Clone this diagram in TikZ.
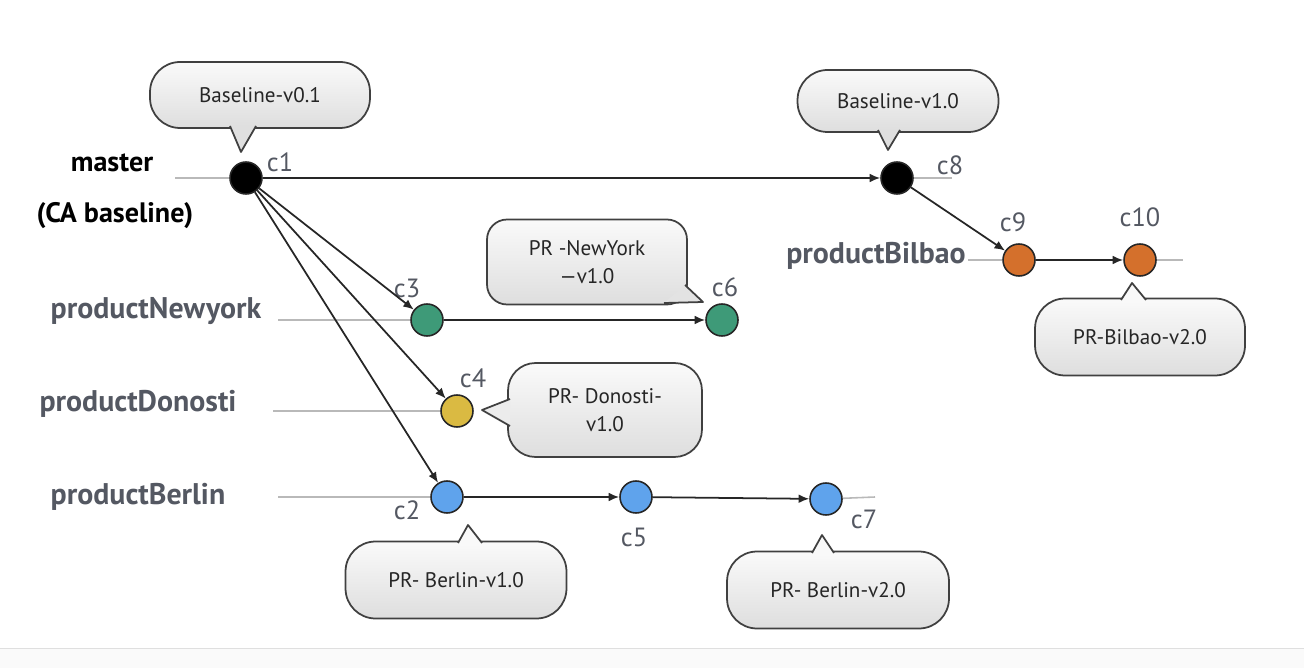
\documentclass[tikz,border=0pt]{standalone}
\usepackage{fontspec}
\setmainfont{PT Sans}
\usetikzlibrary{arrows.meta,positioning}
\definecolor{cgreen}{RGB}{62,154,120}
\definecolor{cyellow}{RGB}{218,186,66}
\definecolor{cblue}{RGB}{95,163,236}
\definecolor{corange}{RGB}{212,112,44}
\definecolor{labgray}{RGB}{84,88,98}
\tikzset{
  commit/.style={circle,draw=black!85,line width=0.9pt,minimum size=0.64cm,inner sep=0pt},
  lane/.style={gray!55,line width=0.9pt},
  link/.style={->,black!85,line width=1pt},
  clabel/.style={text=labgray,font=\fontsize{15}{15}\selectfont},
  branch/.style={text=labgray,font=\bfseries\fontsize{17}{17}\selectfont},
  bubble/.style={draw=black!75,line width=1pt,rounded corners=0.6cm,top color=gray!4,bottom color=gray!26,
    align=center,text=black!85,font=\fontsize{12}{16}\selectfont},
}

\begin{document}
\begin{tikzpicture}[>={Latex[length=6pt,width=5pt]},x=0.02cm,y=-0.02cm]
  \useasboundingbox (0,0) rectangle (1304,668);
  % bottom strip
  \fill[gray!4] (0,648) rectangle (1304,668);
  \draw[gray!25] (0,648) -- (1304,648);

  % branch names
  \node[font=\bfseries\fontsize{16}{16}\selectfont] (master) at (112,163) {master};
  \node[font=\bfseries\fontsize{16}{16}\selectfont] (cabase) at (115,216) {(CA baseline)};
  \node[branch] (ny) at (156,311) {productNewyork};
  \node[branch] (donosti) at (138,404) {productDonosti};
  \node[branch] (berlin) at (138,497) {productBerlin};
  \node[branch] (bilbao) at (876,256) {productBilbao};

  % commits
  \node[commit,fill=black] (c1) at (246,178) {};
  \node[commit,fill=black] (c8) at (897,178) {};
  \node[commit,fill=corange] (c9) at (1019,260) {};
  \node[commit,fill=corange] (c10) at (1140,260) {};
  \node[commit,fill=cgreen] (c3) at (427,320) {};
  \node[commit,fill=cgreen] (c6) at (722,320) {};
  \node[commit,fill=cyellow] (c4) at (457,411) {};
  \node[commit,fill=cblue] (c2) at (447,497) {};
  \node[commit,fill=cblue] (c5) at (636,497) {};
  \node[commit,fill=cblue] (c7) at (826,499) {};

  % commit labels
  \foreach \n/\x/\y in {c1/280/162,c8/950/165,c9/1013/222,c10/1140/217,c3/407/288,
                        c6/725/287,c4/473/378,c2/407/510,c5/634/537,c7/864/519}
    \node[clabel] (l\n) at (\x,\y) {\n};

  % lanes
  \coordinate (m0) at (175,178);  \coordinate (m1) at (952,178);
  \coordinate (b0) at (968,260);  \coordinate (b1) at (1183,260);
  \coordinate (n0) at (278,320);
  \coordinate (d0) at (273,411);
  \coordinate (e0) at (278,497);  \coordinate (e1) at (875,497);
  \draw[lane] (m0) -- (c1);  \draw[lane] (c8) -- (m1);
  \draw[lane] (b0) -- (c9);  \draw[lane] (c10) -- (b1);
  \draw[lane] (n0) -- (c3);
  \draw[lane] (d0) -- (c4);
  \draw[lane] (e0) -- (c2);  \draw[lane] (c7) -- (e1);

  % history
  \draw[link] (c1) -- (c8);
  \draw[link] (c8) -- (c9);
  \draw[link] (c9) -- (c10);
  \draw[link] (c1) -- (c3);
  \draw[link] (c1) -- (c4);
  \draw[link] (c1) -- (c2);
  \draw[link] (c3) -- (c6);
  \draw[link] (c2) -- (c5);
  \draw[link] (c5) -- (c7);

  % tags
  \node[bubble,minimum width=4.4cm,minimum height=1.32cm] (t01) at (260,95) {Baseline-v0.1};
  \node[bubble,minimum width=4.02cm,minimum height=1.24cm] (t10) at (898,101) {Baseline-v1.0};
  \node[bubble,rounded corners=0.4cm,minimum width=4.0cm,minimum height=1.7cm] (tny) at (587,262) {PR -NewYork\\—v1.0};
  \node[bubble,rounded corners=0.55cm,minimum width=3.88cm,minimum height=1.88cm] (tdo) at (605,410) {PR- Donosti-\\v1.0};
  \node[bubble,minimum width=4.42cm,minimum height=1.54cm] (tb1) at (456,580) {PR- Berlin-v1.0};
  \node[bubble,minimum width=4.44cm,minimum height=1.54cm] (tb2) at (838,590) {PR- Berlin-v2.0};
  \node[bubble,minimum width=4.2cm,minimum height=1.54cm] (tbi) at (1140,337) {PR-Bilbao-v2.0};

  % tag pointers: base point, tip, base point, fill
  \foreach \p/\t/\q/\col in {{(230,126)}/{(241,152)}/{(256,126)}/gray!25,
                             {(878,130)}/{(888,150)}/{(900,130)}/gray!25,
                             {(664,303)}/{(703,302)}/{(685,285)}/gray!22,
                             {(510,399)}/{(482,410)}/{(510,426)}/gray!15,
                             {(458,543)}/{(468,525)}/{(482,543)}/gray!5,
                             {(812,553)}/{(822,535)}/{(834,553)}/gray!5,
                             {(1121,300)}/{(1132,283)}/{(1146,300)}/gray!5}{
    \fill[\col] \p -- \t -- \q -- cycle;
    \draw[black!75,line width=1pt,line join=round] \p -- \t -- \q;
  }
\end{tikzpicture}
\end{document}
